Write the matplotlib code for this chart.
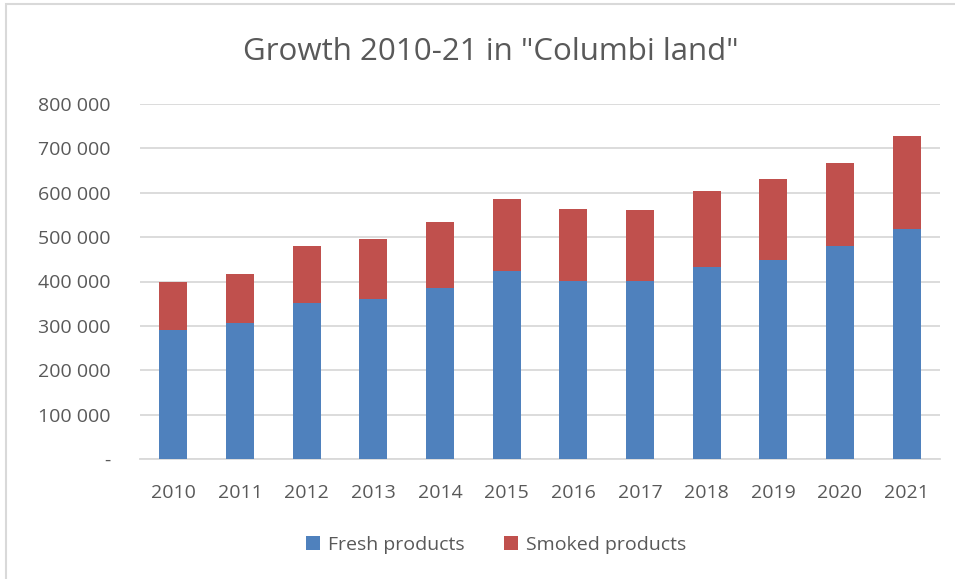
import matplotlib
matplotlib.use("Agg")
import matplotlib.pyplot as plt
from matplotlib.patches import Rectangle
from matplotlib.ticker import FuncFormatter

years = ["2010", "2011", "2012", "2013", "2014", "2015", "2016", "2017", "2018", "2019", "2020", "2021"]
fresh = [290000, 306000, 351000, 360000, 385000, 423000, 402000, 402000, 432000, 448000, 481000, 518000]
smoked = [110000, 112000, 130000, 135000, 150000, 164000, 162000, 160000, 173000, 182000, 187000, 211000]

plt.rcParams['font.family'] = ['Open Sans', 'DejaVu Sans']

W, H = 955, 579
fig = plt.figure(figsize=(W/100, H/100), dpi=100)
fig.patches.append(Rectangle((6/W, -0.1), 1.2, 1 - 4/H + 0.1, transform=fig.transFigure,
                             fill=False, edgecolor="#d9d9d9", linewidth=1.5))

ax = fig.add_axes([140/W, 1 - 459/H, (940-140)/W, (459-104)/H])
x = list(range(len(years)))
ax.bar(x, fresh, width=0.42, color="#4f81bd", label="Fresh products", zorder=3)
ax.bar(x, smoked, width=0.42, bottom=fresh, color="#c0504d", label="Smoked products", zorder=3)

ax.set_xlim(-0.5, len(years) - 0.5)
ax.set_ylim(0, 800000)
ax.set_yticks(range(0, 800001, 100000))
def fmt(v, pos):
    if v == 0:
        return "-"
    return f"{int(v):,}".replace(",", " ")
ax.yaxis.set_major_formatter(FuncFormatter(fmt))
ax.set_xticks(x)
ax.set_xticklabels(years)
ax.grid(axis="y", color="#d9d9d9", linewidth=1.3, zorder=0)
for s in ["top", "right", "left"]:
    ax.spines[s].set_visible(False)
ax.spines["bottom"].set_color("#d9d9d9")
ax.spines["bottom"].set_linewidth(1.3)
ax.tick_params(axis="both", length=0, labelsize=14, labelcolor="#595959")
ax.tick_params(axis="y", pad=21)
ax.tick_params(axis="x", pad=18)
for lab in ax.get_yticklabels():
    lab.set_horizontalalignment("right")

fig.text(491/W, 1 - 52/H, 'Growth 2010-21 in "Columbi land"', ha="center", va="center",
         fontsize=22.5, color="#595959")

fig.legend(loc="center", bbox_to_anchor=(496/W, 1 - 545/H), ncol=2, frameon=False,
           fontsize=14, labelcolor="#595959", handlelength=0.75, handleheight=0.75,
           handletextpad=0.4, columnspacing=2.0)

fig.savefig("out.png", dpi=100)
